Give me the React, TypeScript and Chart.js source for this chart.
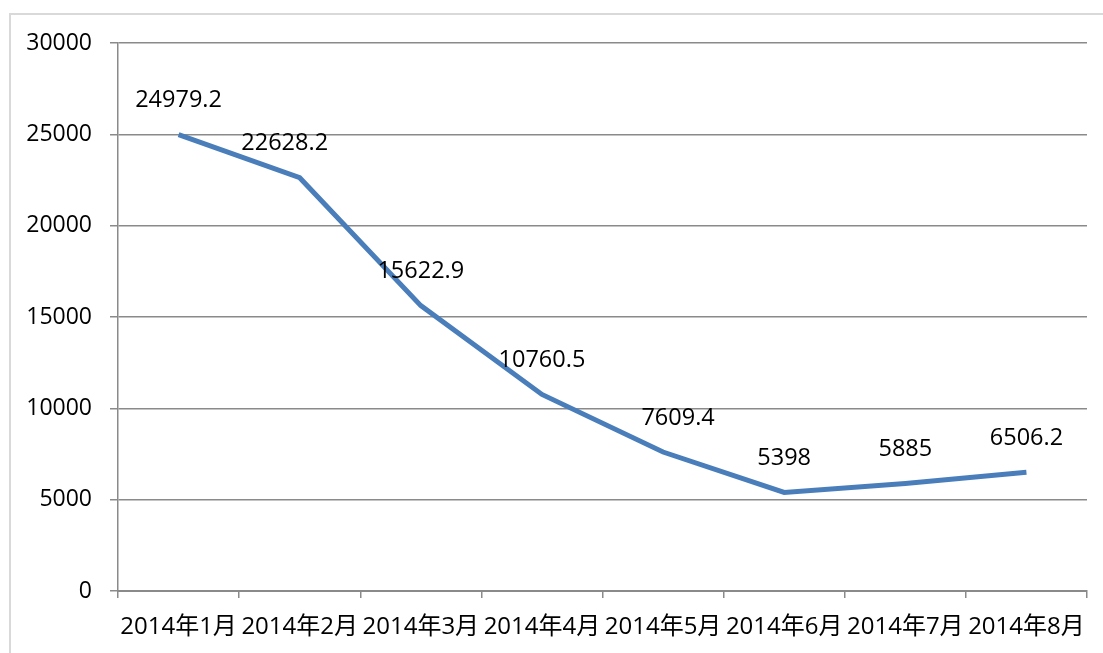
import React, { useEffect, useRef } from "react";
import { Chart, registerables } from "chart.js";

Chart.register(...registerables);

const categories = [
  "2014年1月",
  "2014年2月",
  "2014年3月",
  "2014年4月",
  "2014年5月",
  "2014年6月",
  "2014年7月",
  "2014年8月",
];
const values = [24979.2, 22628.2, 15622.9, 10760.5, 7609.4, 5398, 5885, 6506.2];
const valueLabels = ["24979.2", "22628.2", "15622.9", "10760.5", "7609.4", "5398", "5885", "6506.2"];
const yMin = 0;
const yMax = 30000;
const yStep = 5000;

// label horizontal nudges (styling, in px)
const labelDx = [0, -15, 0, 0, 15, 0, 0, 0];

const FONT = '"Open Sans", "Noto Sans CJK SC", sans-serif';
const GRID = "#8a8a8a";

export default function App() {
  const ref = useRef<HTMLCanvasElement | null>(null);
  useEffect(() => {
    if (!ref.current) return;
    const frame = {
      id: "frame",
      beforeDraw(chart: any) {
        const ctx = chart.ctx;
        ctx.save();
        ctx.fillStyle = "#ffffff";
        ctx.fillRect(0, 0, chart.width, chart.height);
        ctx.strokeStyle = "#d9d9d9";
        ctx.lineWidth = 2;
        ctx.strokeRect(10, 14, chart.width + 20, chart.height + 20);
        ctx.restore();
      },
    };
    const labels = {
      id: "valueLabels",
      afterDatasetsDraw(chart: any) {
        const ctx = chart.ctx;
        const meta = chart.getDatasetMeta(0);
        ctx.save();
        ctx.font = `23.5px ${FONT}`;
        ctx.fillStyle = "#000000";
        ctx.textAlign = "center";
        ctx.textBaseline = "middle";
        meta.data.forEach((pt: any, i: number) => {
          ctx.fillText(valueLabels[i], pt.x + labelDx[i], pt.y - 34);
        });
        ctx.restore();
      },
    };
    const chart = new Chart(ref.current, {
      type: "line",
      data: {
        labels: categories,
        datasets: [
          {
            data: values,
            borderColor: "#4a7ebb",
            borderWidth: 5,
            pointRadius: 0,
            tension: 0,
            fill: false,
          },
        ],
      },
      options: {
        animation: false,
        responsive: false,
        devicePixelRatio: 1,
        layout: { padding: { top: 43, right: 16, left: 0, bottom: 0 } },
        plugins: { legend: { display: false }, tooltip: { enabled: false }, title: { display: false } },
        scales: {
          x: {
            type: "category",
            offset: true,
            grid: {
              offset: true,
              drawOnChartArea: false,
              drawTicks: true,
              tickLength: 7,
              color: GRID,
              lineWidth: 1.5,
            },
            border: { display: true, color: GRID, width: 2 },
            ticks: {
              autoSkip: false,
              maxRotation: 0,
              minRotation: 0,
              padding: 15,
              color: "#000000",
              font: { family: FONT, size: 24 },
            },
            afterFit(scale: any) {
              scale.height = 62;
            },
          },
          y: {
            min: yMin,
            max: yMax,
            grid: {
              drawTicks: true,
              tickLength: 8,
              color: GRID,
              lineWidth: 1.5,
            },
            border: { display: true, color: GRID, width: 1.5 },
            ticks: {
              stepSize: yStep,
              padding: 18,
              color: "#000000",
              font: { family: FONT, size: 23 },
              callback: (v: any) => String(v),
            },
            afterFit(scale: any) {
              scale.width = 118;
            },
          },
        },
      },
      plugins: [frame, labels],
    });
    return () => chart.destroy();
  }, []);
  return (
    <div style={{ position: "absolute", left: 0, top: 0, width: 1103, height: 653 }}>
      <canvas ref={ref} width={1103} height={653} style={{ display: "block" }} />
    </div>
  );
}
